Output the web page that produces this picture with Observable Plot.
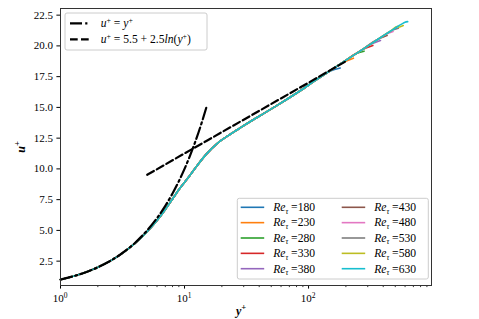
<!DOCTYPE html>
<html>
<head>
<meta charset="utf-8">
<script src="https://cdn.jsdelivr.net/npm/d3@7"></script>
<script src="https://cdn.jsdelivr.net/npm/@observablehq/plot@0.6"></script>
<style>
  html, body { margin: 0; padding: 0; background: white; }
  #chart { width: 479px; height: 319px; }
</style>
</head>
<body>
<div id="chart"></div>
<script>
// ---- data ----
const reTau = [180, 230, 280, 330, 380, 430, 480, 530, 580, 630];
const seriesColors = ["#1f77b4", "#ff7f0e", "#2ca02c", "#d62728", "#9467bd",
                      "#8c564b", "#e377c2", "#7f7f7f", "#bcbd22", "#17becf"];

// shared near-wall / log-region profile (overlapping curves)
const yPlusBase = [1, 1.5, 2, 3, 4, 5, 6, 7, 8, 9.3, 11, 12.7, 15, 18.5, 23, 28.5, 35, 44, 55, 68, 85, 112, 150, 195, 260, 363, 450, 527, 580];
const uPlusBase = [1.0, 1.5, 2.0, 2.99, 3.96, 4.9, 5.8, 6.7, 7.55, 8.5, 9.45, 10.3, 11.2, 12.1, 12.77, 13.37, 13.93, 14.53, 15.12, 15.7, 16.33, 17.15, 18.0, 18.76, 19.58, 20.54, 21.15, 21.6, 21.85];

// end of each curve (centreline region)
const tailYPlus = [[150, 180], [195, 230], [240, 280], [290, 330], [320, 380],
                   [400, 430], [430, 480], [490, 530], [530, 580], [600, 630]];
const tailUPlus = [[17.95, 18.2], [18.7, 19.0], [19.35, 19.57], [19.82, 20.04], [20.15, 20.44],
                   [20.72, 20.85], [20.98, 21.17], [21.33, 21.44], [21.52, 21.66], [21.92, 21.97]];

// reference laws
const yPlusViscous = [1, 1.5, 2, 3, 4, 5, 6, 7, 8, 9, 10, 11, 12, 13, 14, 15];
const uPlusViscous = [1, 1.5, 2, 3, 4, 5, 6, 7, 8, 9, 10, 11, 12, 13, 14, 15];
const yPlusLog = [5, 7, 10, 15, 20, 30, 50, 70, 100, 150, 200];
const uPlusLog = [9.52, 10.36, 11.26, 12.27, 12.99, 14.00, 15.28, 16.12, 17.01, 18.03, 18.75];

const yTicks = [2.5, 5.0, 7.5, 10.0, 12.5, 15.0, 17.5, 20.0, 22.5];
const xMajorTicks = [1, 10, 100];
const xTickExponents = ["0", "1", "2"];
const xMinorTicks = [2,3,4,5,6,7,8,9,20,30,40,50,60,70,80,90,200,300,400,500,600,700,800,900];

// ---- tables ----
const dns = reTau.flatMap((re, i) => {
  const cut = tailYPlus[i][0];
  const base = yPlusBase.map((y, j) => ({re, y, u: uPlusBase[j]})).filter(d => d.y < cut);
  const tail = tailYPlus[i].map((y, j) => ({re, y, u: tailUPlus[i][j]}));
  return base.concat(tail);
});
const viscous = yPlusViscous.map((y, j) => ({y, u: uPlusViscous[j]}));
const logLaw = yPlusLog.map((y, j) => ({y, u: uPlusLog[j]}));

const FONT = "Liberation Serif";
const LEGEND_FS = 11.6;

const plot = Plot.plot({
  width: 479,
  height: 319,
  marginTop: 8,
  marginBottom: 34,
  marginLeft: 60,
  marginRight: 48,
  style: {fontFamily: FONT, fontSize: "11px", color: "black", background: "white"},
  x: {type: "log", domain: [1, 980], label: null},
  y: {domain: [0.52, 23.04], label: null},
  color: {domain: reTau, range: seriesColors},
  marks: [
    Plot.line(dns, {x: "y", y: "u", z: "re", stroke: "re", strokeWidth: 1.6, curve: "monotone-x"}),
    Plot.line(viscous, {x: "y", y: "u", stroke: "black", strokeWidth: 2.2, strokeDasharray: "12,3.2,2.2,3.2", curve: "monotone-x"}),
    Plot.line(logLaw, {x: "y", y: "u", stroke: "black", strokeWidth: 2.2, strokeDasharray: "7.7,3.3"}),
    Plot.axisY({ticks: yTicks, tickFormat: d => d.toFixed(1), tickSize: 3.6, tickPadding: 4, label: null}),
    Plot.axisX({ticks: xMajorTicks, tickFormat: () => "", tickSize: 3.6, label: null}),
    Plot.axisX({ticks: xMinorTicks, tickFormat: () => "", tickSize: 2.1, strokeWidth: 0.8, label: null}),
    Plot.frame({stroke: "#333", strokeWidth: 1})
  ]
});
document.getElementById("chart").appendChild(plot);

// ---- annotations (tick labels with superscripts, axis labels, legends) ----
const svg = d3.select(plot);
const xs = plot.scale("x");
const ann = svg.append("g").attr("font-family", FONT).attr("fill", "black").attr("text-anchor", "start");

xMajorTicks.forEach((v, i) => {
  const t = ann.append("text").attr("x", xs.apply(v)).attr("y", 302)
    .attr("text-anchor", "middle").attr("font-size", 11);
  t.append("tspan").text("10");
  t.append("tspan").attr("font-size", 7.5).attr("dy", -4.5).text(xTickExponents[i]);
});

// axis labels
const xl = ann.append("text").attr("x", 241).attr("y", 315).attr("text-anchor", "middle")
  .attr("font-size", 12).attr("font-weight", "bold").attr("font-style", "italic");
xl.append("tspan").text("y");
xl.append("tspan").attr("font-size", 8.5).attr("dy", -5).text("+");

const yl = ann.append("text").attr("transform", "translate(24.5,147) rotate(-90)")
  .attr("text-anchor", "middle").attr("font-size", 12).attr("font-weight", "bold").attr("font-style", "italic");
yl.append("tspan").text("u");
yl.append("tspan").attr("font-size", 8.5).attr("dy", -5).text("+");

// legend 1: reference laws
const lg1 = ann.append("g");
lg1.append("rect").attr("x", 65).attr("y", 13).attr("width", 142).attr("height", 37).attr("rx", 2)
  .attr("fill", "white").attr("fill-opacity", 0.8).attr("stroke", "#cccccc").attr("stroke-width", 1);
[[23.3, "12,3.2,2.2,3.2"], [39.3, "7.7,3.3"]].forEach(([yy, dash]) => {
  lg1.append("line").attr("x1", 70).attr("x2", 90).attr("y1", yy).attr("y2", yy)
    .attr("stroke", "black").attr("stroke-width", 2.2).attr("stroke-dasharray", dash);
});
const t1 = lg1.append("text").attr("x", 100.7).attr("y", 27).attr("font-size", LEGEND_FS).attr("text-anchor", "start");
t1.append("tspan").attr("font-style", "italic").text("u");
t1.append("tspan").attr("font-size", 7.8).attr("dy", -4.5).text("+");
t1.append("tspan").attr("dy", 4.5).text(" = ");
t1.append("tspan").attr("font-style", "italic").text("y");
t1.append("tspan").attr("font-size", 7.8).attr("dy", -4.5).text("+");
const t2 = lg1.append("text").attr("x", 100.7).attr("y", 43).attr("font-size", LEGEND_FS).attr("text-anchor", "start");
t2.append("tspan").attr("font-style", "italic").text("u");
t2.append("tspan").attr("font-size", 7.8).attr("dy", -4.5).text("+");
t2.append("tspan").attr("dy", 4.5).text(" = 5.5 + 2.5");
t2.append("tspan").attr("font-style", "italic").text("ln");
t2.append("tspan").text("(");
t2.append("tspan").attr("font-style", "italic").text("y");
t2.append("tspan").attr("font-size", 7.8).attr("dy", -4.5).text("+");
t2.append("tspan").attr("dy", 4.5).text(")");

// legend 2: Re_tau series
const lg2 = ann.append("g");
lg2.append("rect").attr("x", 237.3).attr("y", 198.3).attr("width", 191).attr("height", 80.7).attr("rx", 2)
  .attr("fill", "white").attr("fill-opacity", 0.8).attr("stroke", "#cccccc").attr("stroke-width", 1);
reTau.forEach((re, i) => {
  const col = Math.floor(i / 5), row = i % 5;
  const yy = 207.3 + row * 15.35;
  const x0 = col === 0 ? 240.7 : 341.7;
  lg2.append("line").attr("x1", x0).attr("x2", x0 + 23.5).attr("y1", yy).attr("y2", yy)
    .attr("stroke", seriesColors[i]).attr("stroke-width", 1.6);
  const t = lg2.append("text").attr("x", x0 + 32.5).attr("y", yy + 3.8).attr("font-size", LEGEND_FS).attr("text-anchor", "start");
  t.append("tspan").attr("font-style", "italic").text("Re");
  t.append("tspan").attr("font-style", "italic").attr("font-size", 7.8).attr("dy", 2.5).text("τ");
  t.append("tspan").attr("dy", -2.5).text(" =" + re);
});
</script>
</body>
</html>
